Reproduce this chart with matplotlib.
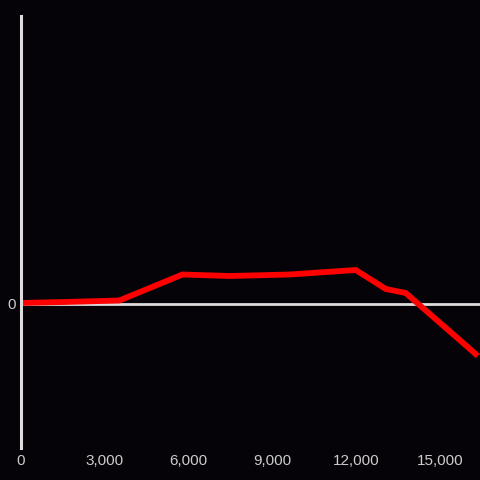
import matplotlib
matplotlib.use("Agg")
import matplotlib.pyplot as plt
from matplotlib.ticker import FuncFormatter

# data
x_vals = [0, 1550, 3520, 5780, 7470, 9620, 11980, 13060, 13770, 15990, 16350]
y_vals = [5, 15, 30, 290, 275, 290, 335, 145, 105, -435, -525]
x_ticks = [0, 3000, 6000, 9000, 12000, 15000]

bg = '#050307'
fig = plt.figure(figsize=(4.8, 4.8), dpi=100, facecolor=bg)
ax = fig.add_axes([21 / 480, 32 / 480, 459 / 480, 432 / 480], facecolor=bg)

ax.axhline(0, color='#dddddd', lw=2, zorder=1)
ax.plot(x_vals, y_vals, color='#ff0000', lw=4.2, solid_capstyle='butt',
        solid_joinstyle='miter', zorder=2, clip_on=False)

ax.set_xlim(0, 16430)
ax.set_ylim(-1445, 2875)
ax.set_xticks(x_ticks)
ax.xaxis.set_major_formatter(FuncFormatter(lambda v, p: f'{int(v):,}'))
ax.set_yticks([0])

for s in ['top', 'right', 'bottom']:
    ax.spines[s].set_visible(False)
ax.spines['left'].set_color('#dddddd')
ax.spines['left'].set_linewidth(2.2)

ax.tick_params(length=0, colors='#cccccc', labelsize=11)
ax.tick_params(axis='x', pad=4)
ax.tick_params(axis='y', pad=4)
for lab in ax.get_xticklabels() + ax.get_yticklabels():
    lab.set_family(['Liberation Sans', 'DejaVu Sans'])

fig.savefig('out.png', dpi=100, facecolor=bg)
